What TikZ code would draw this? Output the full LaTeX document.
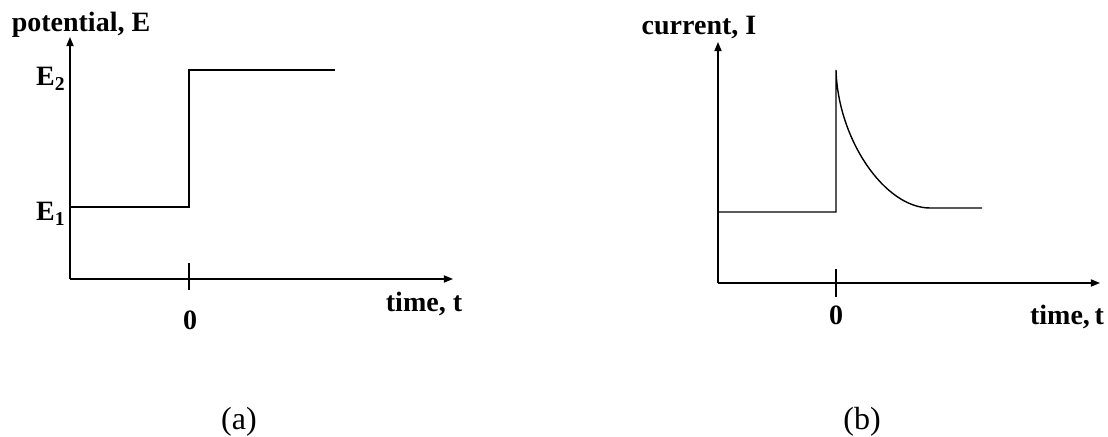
\documentclass[tikz,border=0pt]{standalone}
\usepackage{fontspec}
\setmainfont{Liberation Serif}
\usetikzlibrary{arrows.meta}

\begin{document}
\begin{tikzpicture}[x=0.5pt, y=0.5pt]
  \tikzset{
    axis/.style={
      line width=0.7pt,
      -{Triangle[length=4.6pt, width=3.6pt]}
    },
    signal/.style={
      line width=0.7pt,
      line join=miter
    },
    tickmark/.style={
      line width=0.7pt
    },
    axislabel/.style={
      font=\fontsize{14}{16}\selectfont\bfseries,
      inner sep=0pt,
      anchor=base
    },
    caption/.style={
      font=\fontsize{16}{18}\selectfont,
      inner sep=0pt,
      anchor=base
    }
  }
  \useasboundingbox (0,0) rectangle (1108,437);

  % (a) potential step
  \coordinate (Oa) at (70,158);
  \coordinate (Ya) at (70,400);
  \coordinate (Xa) at (453,158);
  \coordinate (Ta1) at (189,174);
  \coordinate (Ta2) at (189,147);
  \coordinate (Ea1) at (70,230);
  \coordinate (Ea2) at (189,230);
  \coordinate (Ea3) at (189,367);
  \coordinate (Ea4) at (335,367);

  \draw[axis] (Oa) -- (Ya);
  \draw[axis] (Oa) -- (Xa);
  \draw[tickmark] (Ta1) -- (Ta2);
  \draw[signal] (Ea1) -- (Ea2) -- (Ea3) -- (Ea4);

  \node[axislabel] (ylabela) at (81,405) {potential, E};
  \node[axislabel, anchor=base east] (elabtwo) at (66,351) {E\textsubscript{2}};
  \node[axislabel, anchor=base east] (elabone) at (66,216) {E\textsubscript{1}};
  \node[axislabel] (xlabela) at (424,125) {time, t};
  \node[axislabel] (zeroa) at (190,107) {0};
  \node[caption] (capa) at (239,7) {(a)};

  % (b) current response
  \coordinate (Ob) at (718,154);
  \coordinate (Yb) at (718,395);
  \coordinate (Xb) at (1100,154);
  \coordinate (Tb1) at (836,168);
  \coordinate (Tb2) at (836,140);
  \coordinate (Ib1) at (718,225);
  \coordinate (Ib2) at (836,225);
  \coordinate (Ib3) at (836,367);
  \coordinate (Ib4) at (930,229);
  \coordinate (Ib5) at (982,229);

  \draw[axis] (Ob) -- (Yb);
  \draw[axis] (Ob) -- (Xb);
  \draw[tickmark] (Tb1) -- (Tb2);
  \draw[signal] (Ib1) -- (Ib2) -- (Ib3)
    .. controls (838,297) and (885,229) .. (Ib4) -- (Ib5);

  \node[axislabel] (ylabelb) at (699,402) {current, I};
  \node[axislabel] (xlabelb) at (1067,112) {time,\thinspace t};
  \node[axislabel] (zerob) at (836,112) {0};
  \node[caption] (capb) at (862,7) {(b)};
\end{tikzpicture}
\end{document}
